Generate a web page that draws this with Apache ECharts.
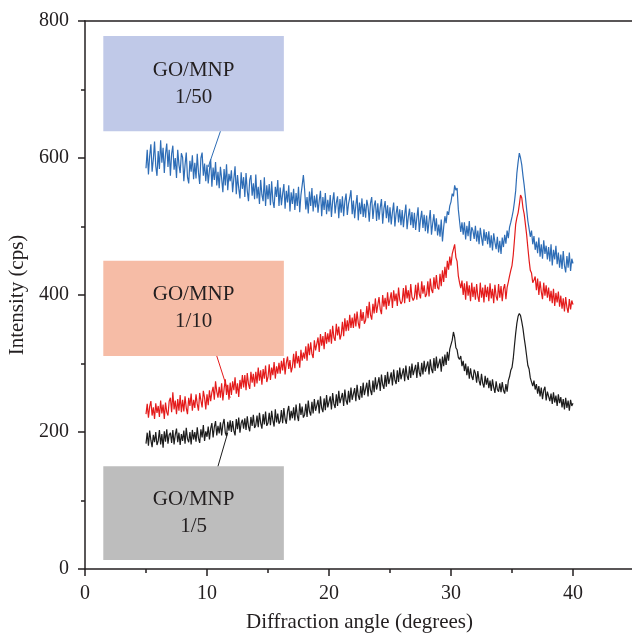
<!DOCTYPE html>
<html>
<head>
<meta charset="utf-8">
<script src="https://cdn.jsdelivr.net/npm/echarts@6/dist/echarts.min.js"></script>
<style>html,body{margin:0;padding:0;background:#fff;}#chart{width:632px;height:633px;}</style>
</head>
<body>
<div id="chart"></div>
<script>
// sampling grid of the diffraction scans (degrees): 5.0, 5.1, ... 40.0
const angleStart = 5;
const angleStep = 0.1;
const xTicks = [0, 10, 20, 30, 40];
const yTicks = [0, 200, 400, 600, 800];

// GO/MNP 1/50 (blue) — one row per degree
const ratio50 = [
 585,612,576,603,620,580,598,624,588,574,
 610,584,626,593,615,578,606,621,587,612,
 574,606,618,583,600,571,612,590,578,607,
 601,566,590,608,572,563,596,580,604,569,
 593,570,606,579,562,600,608,574,592,566,
 590,563,582,598,558,586,568,594,560,580,
 556,587,570,550,584,560,591,553,577,566,
 582,550,570,588,547,575,556,541,579,555,
 572,543,578,552,537,568,575,545,563,540,
 576,541,558,533,568,546,537,572,530,560,
 540,562,531,566,537,527,558,543,568,530,
 557,531,548,562,526,552,535,560,522,550,
 533,555,524,549,530,558,521,546,560,575,
 554,525,543,519,551,530,556,522,545,528,
 547,520,538,552,515,543,524,549,518,539,
 522,546,514,537,550,519,535,544,512,540,
 520,544,515,537,548,517,533,542,553,518,
 538,512,531,546,509,535,518,541,514,533,
 513,539,529,507,534,543,511,530,538,508,
 534,510,528,540,504,526,537,512,531,506,
 528,503,521,535,500,519,530,506,525,502,
 524,499,517,532,496,514,526,502,521,498,
 520,495,513,528,492,510,523,498,517,493,
 516,490,508,524,488,505,518,493,512,487,
 503,485,510,478,499,515,505,522,517,530,
 536,548,544,560,553,556,525,508,492,506,
 488,506,481,501,486,508,479,499,494,482,
 501,478,494,474,498,484,472,496,479,492,
 474,493,469,487,465,490,477,467,485,462,
 479,460,484,470,488,475,494,483,499,506,
 514,523,536,552,578,594,607,600,590,574,
 560,543,525,508,497,485,494,474,486,466,
 478,461,484,456,474,453,480,460,472,452,
 470,449,474,443,466,452,472,445,462,440,
 459,438,464,443,433,457,440,462,435,453,
 446
];
// GO/MNP 1/10 (red)
const ratio10 = [
 226,241,221,237,245,224,236,219,242,228,
 238,222,246,227,240,219,243,229,224,245,
 250,229,258,233,246,226,248,231,254,229,
 247,230,252,235,226,250,238,256,231,247,
 235,255,241,231,257,246,236,260,250,233,
 255,239,261,245,258,266,247,274,259,250,
 266,250,271,246,263,277,254,269,247,272,
 254,274,261,280,256,271,251,276,263,283,
 265,283,261,286,270,263,288,272,285,266,
 288,271,294,275,290,269,292,278,297,273,
 280,299,276,294,283,302,278,296,285,301,
 285,304,290,308,284,301,310,292,305,287,
 295,314,293,318,300,311,294,320,304,316,
 307,325,304,329,312,331,314,308,334,319,
 320,338,317,343,326,340,321,346,329,344,
 331,350,329,355,338,333,358,341,354,335,
 342,361,340,366,347,363,348,371,352,367,
 352,373,354,376,359,351,379,362,375,358,
 363,384,366,390,371,364,387,373,395,374,
 375,397,379,372,400,383,396,379,404,384,
 385,404,381,407,391,402,384,411,393,387,
 391,410,388,414,395,407,390,416,397,392,
 396,415,393,418,401,395,420,402,414,397,
 401,420,398,424,408,403,426,409,429,411,
 408,431,413,436,419,441,425,450,437,456,
 443,460,458,474,455,449,428,418,410,421,
 400,417,393,420,399,414,391,418,397,412,
 393,416,398,390,418,396,411,389,415,397,
 412,391,417,395,409,388,415,398,392,416,
 396,413,391,409,416,394,411,419,428,436,
 443,458,480,503,513,520,532,546,542,527,
 518,503,488,469,451,436,432,418,422,427,
 407,424,400,420,405,394,418,399,414,396,
 411,391,406,388,409,384,403,389,405,383,
 399,380,395,376,397,382,374,394,379,392,
 386
];
// GO/MNP 1/5 (black)
const ratio5 = [
 183,199,180,202,188,178,196,185,200,181,
 187,203,182,197,177,201,186,204,183,196,
 199,184,203,182,196,205,185,199,181,197,
 187,202,183,206,190,185,200,182,203,189,
 200,186,207,191,184,204,192,210,187,201,
 193,208,189,205,213,192,207,216,195,209,
 198,214,195,211,219,199,194,215,202,217,
 200,216,202,195,219,204,221,199,213,218,
 205,220,203,223,208,201,222,209,225,206,
 210,224,207,228,213,205,226,211,230,209,
 213,228,210,231,217,208,233,214,227,212,
 216,232,213,235,219,212,230,238,217,231,
 220,236,217,240,224,216,242,225,237,221,
 225,241,222,246,230,224,244,227,248,231,
 231,247,227,252,235,229,249,232,254,236,
 236,252,233,257,241,235,255,238,260,242,
 241,257,238,262,246,240,260,243,265,247,
 248,264,245,269,253,247,267,250,272,254,
 255,272,252,276,261,254,275,258,280,262,
 264,280,260,284,269,263,283,266,288,270,
 271,287,268,291,276,270,290,273,294,277,
 277,293,274,297,282,276,296,279,300,283,
 282,298,279,302,287,281,301,284,304,288,
 287,303,284,306,292,286,308,289,310,293,
 292,307,288,310,296,313,298,317,304,321,
 320,334,346,338,323,320,309,306,311,296,
 304,289,300,283,296,278,293,281,276,291,
 286,272,289,275,268,285,271,265,282,269,
 279,264,275,260,277,265,257,274,262,259,
 271,258,273,261,256,270,259,275,281,290,
 294,307,326,344,359,369,373,370,361,351,
 337,325,311,297,292,279,278,267,275,262,
 270,256,267,252,265,248,261,266,246,259,
 260,245,256,241,258,243,253,238,255,242,
 251,236,248,233,250,235,246,231,247,238,
 242
];

// annotation boxes and leader lines, in data coordinates
const labels = ['GO/MNP\n1/50', 'GO/MNP\n1/10', 'GO/MNP\n1/5'];
const boxes = [
  [[1.5, 778], [16.3, 639]],
  [[1.5, 450], [16.3, 311]],
  [[1.5, 150], [16.3, 13]]
];
const leaders = [
  [[11.1, 639], [10.1, 587]],
  [[10.8, 311], [11.9, 250]],
  [[10.9, 150], [11.7, 199]]
];
const lineColors = ['#2e6db6', '#e41b1b', '#1c1c1c'];
const boxColors = ['#c0c9e8', '#f6bca6', '#bdbdbd'];

const toPairs = arr => arr.map((v, i) => [+(angleStart + i * angleStep).toFixed(2), v]);
const serif = '"Liberation Serif", "DejaVu Serif", serif';
const txt = '#231f20';

function makeSeries(values, k) {
  return {
    type: 'line',
    data: toPairs(values),
    showSymbol: false,
    symbol: 'none',
    lineStyle: { color: lineColors[k], width: 1.2 },
    itemStyle: { color: lineColors[k] },
    z: 3,
    markArea: {
      silent: true,
      itemStyle: { color: boxColors[k] },
      label: {
        show: true, position: 'inside', formatter: labels[k],
        fontFamily: serif, fontSize: 21, lineHeight: 27, color: txt
      },
      data: [[{ coord: boxes[k][0] }, { coord: boxes[k][1] }]]
    },
    markLine: {
      silent: true,
      symbol: ['none', 'none'],
      label: { show: false },
      lineStyle: { color: lineColors[k], width: 1, type: 'solid' },
      data: [[{ coord: leaders[k][0] }, { coord: leaders[k][1] }]]
    }
  };
}

const chart = echarts.init(document.getElementById('chart'), null, { renderer: 'canvas' });
chart.setOption({
  animation: false,
  backgroundColor: '#fff',
  grid: { left: 85, right: -2, top: 21, bottom: 64, containLabel: false, outerBoundsMode: 'none' },
  xAxis: [{
    type: 'value', min: 0, max: 45, interval: 10,
    name: 'Diffraction angle (degrees)', nameLocation: 'middle', nameGap: 43,
    nameTextStyle: { fontFamily: serif, fontSize: 21, color: txt },
    axisLine: { onZero: false, lineStyle: { color: '#231f20', width: 1.5 } },
    axisTick: { show: true, length: 7, lineStyle: { color: '#231f20', width: 1.5 } },
    minorTick: { show: true, splitNumber: 2, length: 4, lineStyle: { color: '#231f20', width: 1.5 } },
    axisLabel: {
      fontFamily: serif, fontSize: 20, color: txt, margin: 15, showMaxLabel: false,
      formatter: v => (xTicks.includes(v) ? String(v) : '')
    },
    splitLine: { show: false }
  }, {
    type: 'value', min: 0, max: 45, position: 'top',
    axisLine: { show: true, onZero: false, lineStyle: { color: '#231f20', width: 1.5 } },
    axisTick: { show: false }, axisLabel: { show: false }, splitLine: { show: false }
  }],
  yAxis: {
    type: 'value', min: 0, max: 800, interval: 200,
    name: 'Intensity (cps)', nameLocation: 'middle', nameGap: 57,
    nameTextStyle: { fontFamily: serif, fontSize: 21, color: txt },
    axisLine: { show: true, onZero: false, lineStyle: { color: '#231f20', width: 1.5 } },
    axisTick: { show: true, length: 7, lineStyle: { color: '#231f20', width: 1.5 } },
    minorTick: { show: true, splitNumber: 2, length: 4, lineStyle: { color: '#231f20', width: 1.5 } },
    axisLabel: {
      fontFamily: serif, fontSize: 20, color: txt, margin: 16,
      formatter: v => (yTicks.includes(v) ? String(v) : '')
    },
    splitLine: { show: false }
  },
  series: [makeSeries(ratio50, 0), makeSeries(ratio10, 1), makeSeries(ratio5, 2)]
});
</script>
</body>
</html>
